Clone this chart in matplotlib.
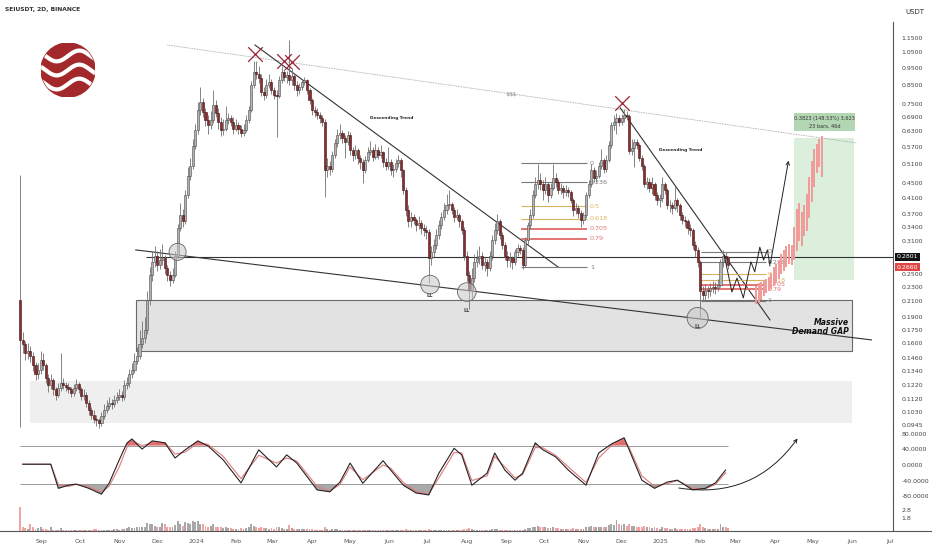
import numpy as np
import matplotlib
matplotlib.use("Agg")
import matplotlib.pyplot as plt
import matplotlib.dates as mdates
import matplotlib.transforms as mtransforms
from matplotlib.patches import Rectangle, Circle, FancyArrowPatch
from matplotlib.lines import Line2D
from matplotlib.ticker import NullLocator, NullFormatter, FixedLocator

plt.rcParams['font.family'] = ['DejaVu Sans']

# ---- data (2D candles, SEIUSDT) ----
start = np.datetime64("2023-08-15")
first_open = 0.212
closes = [
    0.164, 0.159, 0.150, 0.152, 0.148, 0.139, 0.131, 0.135, 0.144, 0.139,
    0.128, 0.122, 0.126, 0.119, 0.115, 0.120, 0.124, 0.122, 0.121, 0.119,
    0.116, 0.120, 0.123, 0.119, 0.114, 0.115, 0.109, 0.104, 0.101, 0.0985,
    0.0978, 0.096, 0.100, 0.104, 0.107, 0.109, 0.108, 0.111, 0.113, 0.115,
    0.113, 0.122, 0.124, 0.131, 0.135, 0.143, 0.148, 0.159, 0.166, 0.175,
    0.212, 0.249, 0.270, 0.282, 0.266, 0.274, 0.277, 0.260, 0.249, 0.241,
    0.249, 0.282, 0.337, 0.367, 0.352, 0.418, 0.473, 0.504, 0.574, 0.635,
    0.723, 0.760, 0.715, 0.678, 0.656, 0.678, 0.746, 0.708, 0.670, 0.635,
    0.641, 0.678, 0.685, 0.670, 0.641, 0.656, 0.641, 0.624, 0.635, 0.678,
    0.723, 0.850, 0.923, 0.913, 0.889, 0.812, 0.797, 0.850, 0.867, 0.822,
    0.797, 0.792, 0.877, 0.923, 0.894, 0.904, 0.877, 0.899, 0.850, 0.822,
    0.839, 0.867, 0.877, 0.822, 0.771, 0.723, 0.715, 0.700, 0.685, 0.670,
    0.490, 0.504, 0.495, 0.541, 0.584, 0.614, 0.624, 0.603, 0.588, 0.614,
    0.558, 0.541, 0.558, 0.530, 0.516, 0.490, 0.523, 0.550, 0.558, 0.533,
    0.558, 0.541, 0.550, 0.516, 0.504, 0.516, 0.490, 0.495, 0.512, 0.523,
    0.490, 0.431, 0.379, 0.352, 0.362, 0.355, 0.343, 0.348, 0.337, 0.333,
    0.328, 0.277, 0.289, 0.302, 0.322, 0.343, 0.362, 0.379, 0.390, 0.394,
    0.379, 0.362, 0.367, 0.352, 0.333, 0.282, 0.249, 0.226, 0.244, 0.270,
    0.277, 0.282, 0.266, 0.270, 0.260, 0.282, 0.312, 0.333, 0.352, 0.322,
    0.302, 0.282, 0.274, 0.277, 0.270, 0.289, 0.297, 0.293, 0.266, 0.312,
    0.343, 0.367, 0.418, 0.447, 0.460, 0.447, 0.431, 0.447, 0.418, 0.437,
    0.466, 0.455, 0.431, 0.437, 0.425, 0.431, 0.425, 0.404, 0.379, 0.384,
    0.371, 0.355, 0.367, 0.418, 0.447, 0.490, 0.466, 0.473, 0.504, 0.523,
    0.495, 0.523, 0.576, 0.656, 0.670, 0.685, 0.670, 0.685, 0.700, 0.696,
    0.554, 0.566, 0.588, 0.576, 0.530, 0.504, 0.447, 0.455, 0.437, 0.447,
    0.418, 0.404, 0.408, 0.447, 0.431, 0.390, 0.390, 0.384, 0.404, 0.390,
    0.367, 0.355, 0.352, 0.337, 0.333, 0.302, 0.293, 0.270, 0.224, 0.219,
    0.226, 0.224, 0.229, 0.231, 0.229, 0.234, 0.270, 0.282, 0.277, 0.266,
]
highs = [
    .475, .172, .163, .160, .157, .151, .142, .141, .152, .150,
    .141, .131, .131, .128, .121, .124, .150, .128, .125, .124,
    .121, .123, .127, .125, .121, .119, .117, .111, .106, .104,
    .101, .099, .103, .108, .111, .113, .112, .115, .117, .119,
    .118, .126, .129, .136, .141, .150, .156, .175, .185, .190,
    .225, .262, .290, .300, .290, .295, .305, .283, .266, .255,
    .260, .290, .345, .395, .380, .430, .500, .530, .600, .660,
    .760, .840, .780, .730, .700, .720, .820, .770, .730, .690,
    .680, .740, .710, .700, .690, .680, .670, .655, .660, .700,
    .740, .870, .990, .990, .960, .910, .840, .880, .910, .880,
    .840, .820, .900, .960, .940, .930, 1.135, .950, .910, .870,
    .860, .880, .895, .885, .830, .780, .740, .730, .715, .700,
    .680, .530, .520, .555, .600, .640, .660, .635, .615, .630,
    .625, .570, .575, .565, .540, .525, .535, .570, .590, .570,
    .580, .570, .575, .555, .530, .570, .525, .510, .525, .540,
    .530, .495, .440, .390, .375, .370, .360, .365, .355, .345,
    .342, .335, .300, .315, .335, .355, .375, .395, .420, .430,
    .400, .385, .380, .372, .358, .340, .290, .255, .260, .285,
    .292, .300, .288, .280, .276, .290, .322, .348, .370, .358,
    .328, .308, .290, .288, .282, .295, .305, .302, .298, .318,
    .350, .380, .430, .470, .510, .480, .460, .470, .455, .450,
    .510, .480, .462, .450, .445, .445, .440, .432, .410, .395,
    .392, .378, .375, .425, .460, .510, .500, .490, .515, .560,
    .530, .540, .590, .670, .700, .710, .700, .705, .728, .720,
    .705, .600, .600, .600, .585, .540, .510, .470, .465, .470,
    .455, .425, .420, .470, .455, .437, .405, .400, .440, .410,
    .395, .375, .365, .358, .345, .338, .310, .298, .275, .232,
    .235, .232, .236, .240, .238, .242, .276, .292, .288, .282,
]
lows = [
    .093, .150, .144, .145, .142, .134, .126, .127, .131, .135,
    .124, .117, .119, .115, .111, .113, .118, .119, .118, .116,
    .113, .114, .118, .116, .111, .111, .106, .101, .098, .096,
    .094, .0925, .094, .098, .102, .105, .105, .106, .109, .111,
    .110, .111, .119, .121, .128, .132, .140, .145, .155, .160,
    .170, .205, .240, .262, .255, .258, .265, .250, .240, .232,
    .236, .245, .276, .330, .340, .345, .410, .460, .495, .560,
    .620, .700, .690, .650, .620, .640, .665, .690, .640, .610,
    .615, .630, .660, .650, .620, .630, .620, .605, .610, .625,
    .665, .715, .835, .880, .860, .790, .770, .780, .830, .800,
    .775, .605, .780, .860, .870, .860, .850, .850, .820, .790,
    .800, .820, .850, .800, .750, .700, .690, .680, .665, .650,
    .413, .470, .475, .485, .530, .570, .600, .585, .530, .575,
    .540, .520, .525, .510, .495, .450, .480, .515, .540, .520,
    .525, .525, .530, .500, .490, .495, .475, .470, .485, .500,
    .470, .420, .365, .340, .340, .345, .330, .335, .325, .320,
    .315, .236, .265, .280, .295, .315, .335, .355, .370, .380,
    .370, .350, .355, .340, .325, .275, .240, .200, .215, .238,
    .262, .268, .258, .255, .248, .255, .275, .305, .325, .315,
    .295, .275, .262, .262, .258, .265, .282, .285, .258, .262,
    .305, .335, .360, .410, .435, .430, .405, .420, .400, .410,
    .430, .440, .420, .420, .410, .415, .412, .395, .365, .370,
    .360, .340, .345, .360, .410, .440, .455, .455, .465, .495,
    .480, .485, .515, .565, .635, .620, .650, .655, .670, .675,
    .545, .540, .500, .560, .520, .490, .440, .435, .425, .420,
    .405, .390, .385, .400, .420, .380, .375, .370, .378, .375,
    .355, .345, .340, .325, .320, .295, .280, .262, .189, .210,
    .212, .215, .218, .222, .220, .224, .230, .262, .265, .258,
]
volumes = [
    3.3, 0.6, 0.4, 0.3, 0.9, 0.5, 0.3, 0.4, 0.6, 0.3,
    0.3, 0.2, 0.5, 0.2, 0.2, 0.2, 0.4, 0.2, 0.2, 0.1,
    0.2, 0.2, 0.2, 0.2, 0.2, 0.1, 0.2, 0.2, 0.2, 0.3,
    0.3, 0.2, 0.2, 0.2, 0.2, 0.2, 0.2, 0.3, 0.3, 0.2,
    0.3, 0.3, 0.4, 0.5, 0.4, 0.4, 0.5, 0.6, 0.5, 0.5,
    1.1, 0.9, 1.0, 0.7, 0.5, 0.6, 1.1, 0.9, 0.6, 0.5,
    0.5, 0.8, 1.3, 1.0, 0.7, 1.2, 1.1, 0.9, 1.3, 1.2,
    1.4, 1.0, 0.9, 0.7, 0.6, 0.7, 1.0, 0.6, 0.6, 0.5,
    0.4, 0.5, 0.4, 0.4, 0.3, 0.3, 0.3, 0.4, 0.3, 0.4,
    0.5, 0.9, 0.7, 0.5, 0.4, 0.5, 0.4, 0.4, 0.3, 0.4,
    0.3, 0.5, 0.5, 0.4, 0.3, 0.3, 0.8, 0.4, 0.3, 0.3,
    0.3, 0.3, 0.3, 0.3, 0.3, 0.3, 0.2, 0.2, 0.2, 0.2,
    0.5, 0.3, 0.2, 0.3, 0.3, 0.3, 0.2, 0.2, 0.2, 0.2,
    0.2, 0.2, 0.2, 0.2, 0.2, 0.2, 0.2, 0.2, 0.2, 0.2,
    0.2, 0.1, 0.1, 0.2, 0.2, 0.2, 0.1, 0.1, 0.1, 0.1,
    0.2, 0.2, 0.3, 0.2, 0.2, 0.1, 0.1, 0.1, 0.1, 0.1,
    0.1, 0.3, 0.2, 0.2, 0.2, 0.2, 0.2, 0.2, 0.2, 0.2,
    0.2, 0.1, 0.1, 0.2, 0.2, 0.3, 0.3, 0.4, 0.3, 0.2,
    0.2, 0.2, 0.2, 0.1, 0.1, 0.2, 0.3, 0.3, 0.3, 0.2,
    0.2, 0.2, 0.2, 0.1, 0.1, 0.2, 0.2, 0.1, 0.2, 0.3,
    0.4, 0.4, 0.6, 0.5, 0.7, 0.6, 0.5, 0.5, 0.4, 0.4,
    0.6, 0.4, 0.4, 0.3, 0.3, 0.3, 0.3, 0.3, 0.4, 0.3,
    0.3, 0.3, 0.3, 0.5, 0.6, 0.7, 0.5, 0.5, 0.6, 0.6,
    0.5, 0.6, 0.8, 1.0, 0.8, 1.5, 0.9, 0.8, 0.9, 0.7,
    1.0, 0.7, 0.7, 0.5, 0.5, 0.6, 0.7, 0.5, 0.5, 0.4,
    0.5, 0.4, 0.3, 0.5, 0.4, 0.4, 0.3, 0.3, 0.4, 0.3,
    0.3, 0.3, 0.3, 0.3, 0.3, 0.4, 0.4, 0.5, 0.9, 0.5,
    0.4, 0.3, 0.3, 0.3, 0.3, 0.3, 0.9, 0.6, 0.5, 0.4,
]

# projected (bars pattern) highs / lows, continuing the 2D bar index
proj_start = 290
proj_hi = [.232, .236, .238, .240, .243, .246, .252, .262, .268, .275, .285, .292, .300, .305,
           .302, .340, .380, .395, .375, .390, .420, .470, .520, .560, .580, .600, .610]
proj_lo = [.207, .208, .212, .218, .222, .225, .228, .232, .236, .243, .250, .255, .262, .268,
           .265, .275, .290, .310, .300, .320, .330, .360, .400, .440, .480, .500, .470]

# oscillator (bar index, value)
osc_idx = [1, 12, 15, 19, 22, 27, 32, 35, 39, 42, 44, 48, 52, 57, 61, 65, 70, 74, 80, 87,
           94, 101, 105, 109, 117, 122, 126, 130, 135, 143, 146, 151, 156, 161, 165, 171, 174, 178, 184, 187,
           191, 195, 198, 203, 206, 211, 216, 223, 228, 233, 238, 240, 245, 250, 255, 259, 265, 270, 274, 278]
osc_main = [2, 2, -60, -52, -49, -60, -75, -47, 13, 56, 67, 41, 62, 57, 18, 39, 62, 49, 13, -46,
            39, -5, 26, 5, -64, -69, -44, 5, -47, 11, -13, -52, -72, -77, -21, 43, 26, -52, -21, 31,
            -13, -39, -21, 57, 39, 21, -13, -52, 31, 54, 70, 39, -39, -60, -44, -39, -64, -60, -46, -13]
osc_signal = [2, 2, -50, -55, -50, -56, -70, -55, -5, 45, 62, 50, 57, 58, 28, 33, 57, 53, 22, -35,
              25, 5, 18, 10, -55, -67, -50, -5, -38, 0, -8, -45, -68, -75, -33, 32, 31, -40, -28, 22,
              -5, -33, -25, 45, 44, 25, -5, -45, 18, 50, 66, 45, -28, -55, -48, -40, -60, -61, -50, -20]
osc_levels = [50, -50]

price_ticks = [1.15, 1.05, 0.95, 0.85, 0.75, 0.69, 0.63, 0.57, 0.51, 0.45, 0.41, 0.37, 0.34, 0.31,
               0.25, 0.23, 0.21, 0.19, 0.175, 0.16, 0.146, 0.134, 0.122, 0.112, 0.103, 0.0945]
level_line = 0.2801
fib_levels = [0, 0.236, 0.5, 0.618, 0.705, 0.79, 1]
fib_colors = ['#7a7a7a', '#7a7a7a', '#d9b25c', '#d9b25c', '#e57373', '#e57373', '#7a7a7a']
fib_widths = [0.8, 0.8, 0.8, 0.8, 1.4, 1.4, 0.8]


def dn(s):
    return mdates.date2num(np.datetime64(s))


def bar_x(i):
    return mdates.date2num(start + np.timedelta64(2, 'D') * np.asarray(i))


c = np.array(closes)
o = np.array([first_open] + closes[:-1])
h = np.array(highs)
l = np.array(lows)
v = np.array(volumes)
x = bar_x(np.arange(len(c)))
up = c >= o

W, H = 932, 550
fig = plt.figure(figsize=(W / 100, H / 100), dpi=100)
fig.patch.set_facecolor('white')

axp = fig.add_axes([0, 1 - 430 / H, 893 / W, 408 / H])
axo = fig.add_axes([0, 1 - 500 / H, 893 / W, 70 / H], sharex=axp)
axv = fig.add_axes([0, 1 - 531 / H, 893 / W, 31 / H], sharex=axp)

for a in (axp, axo, axv):
    for s in ('top', 'left', 'bottom'):
        a.spines[s].set_visible(False)
    a.spines['right'].set_color('#555555')
    a.spines['right'].set_linewidth(0.8)
    a.yaxis.tick_right()
    a.tick_params(axis='y', length=0, pad=6, labelsize=4.5, labelcolor='#444444')
    a.set_facecolor('none')

# ---- price pane ----
axp.set_yscale('log')
axp.set_ylim(0.0915, 1.275)
axp.set_xlim(dn('2023-07-30'), dn('2025-07-03'))
axp.yaxis.set_major_locator(FixedLocator(price_ticks))
axp.yaxis.set_minor_locator(NullLocator())
axp.yaxis.set_minor_formatter(NullFormatter())
axp.set_yticklabels([f'{t:.4f}' for t in price_ticks])
axp.tick_params(axis='x', which='both', bottom=False, labelbottom=False)

# zones
axp.add_patch(Rectangle((dn('2023-08-23'), 0.0958), dn('2025-06-01') - dn('2023-08-23'), 0.1256 - 0.0958,
                        facecolor='#efefef', edgecolor='none', zorder=0))
axp.add_patch(Rectangle((dn('2023-11-14'), 0.1525), dn('2025-06-01') - dn('2023-11-14'), 0.212 - 0.1525,
                        facecolor='#e2e2e2', edgecolor='#6a6a6a', lw=0.8, zorder=0.5))
axp.text(dn('2025-05-29'), 0.178, 'Massive\nDemand GAP', ha='right', va='center', fontsize=5.6,
         fontweight='bold', fontstyle='italic', color='#111111', linespacing=1.0, zorder=6)

# green range box
axp.add_patch(Rectangle((dn('2025-04-16'), 0.241), dn('2025-06-02') - dn('2025-04-16'), 0.603 - 0.241,
                        facecolor='#dcefdc', edgecolor='none', zorder=0.8))
axp.add_patch(Rectangle((dn('2025-04-16'), 0.631), dn('2025-06-03') - dn('2025-04-16'), 0.709 - 0.631,
                        facecolor='#b3d6b3', edgecolor='none', zorder=0.8))
axp.text((dn('2025-04-16') + dn('2025-06-03')) / 2, 0.668, '0.3823 (148.53%) 3,623\n23 bars, 46d',
         ha='center', va='center', fontsize=3.6, color='#333333', linespacing=1.6, zorder=6)

# trend lines
axp.plot([dn('2023-12-09'), dn('2025-06-04')], [1.099, 0.584], color='#9a9a9a', lw=0.6, ls=(0, (1, 1)), zorder=2)
axp.text(dn('2024-09-05'), 0.796, '-$$$', fontsize=3.5, color='#777777', ha='center', va='center', zorder=2)
axp.plot([dn('2023-11-14'), dn('2025-06-16')], [0.2927, 0.1637], color='#333333', lw=0.8, zorder=2)
axp.hlines(level_line, dn('2023-11-22'), dn('2025-07-03'), color='#333333', lw=0.8, zorder=2)
axp.plot([dn('2024-02-16'), dn('2024-10-12')], [1.099, 0.262], color='#333333', lw=0.8, zorder=2)
axp.plot([dn('2024-11-30'), dn('2025-03-28')], [0.732, 0.1863], color='#333333', lw=0.8, zorder=2)
axp.text(dn('2024-06-03'), 0.686, 'Descending Trend', fontsize=3.1, fontweight='bold', color='#222222',
         ha='center', va='center', zorder=6)
axp.text(dn('2025-01-17'), 0.558, 'Descending Trend', fontsize=3.1, fontweight='bold', color='#222222',
         ha='center', va='center', zorder=6)

# fib retracements
for (d0, d1, hi, lo, dlab) in [('2024-09-13', '2024-11-04', 0.513, 0.262, '2024-11-06'),
                               ('2025-02-02', '2025-03-25', 0.289, 0.2105, '2025-03-26')]:
    for lev, col, lw in zip(fib_levels, fib_colors, fib_widths):
        p = hi - lev * (hi - lo)
        axp.hlines(p, dn(d0), dn(d1), color=col, lw=lw, zorder=2)
        lab = '0' if lev == 0 else ('1' if lev == 1 else f'{lev:g}')
        axp.text(dn(dlab), p, lab, fontsize=4.6, color=col, ha='left', va='center', zorder=2)

# candles
axp.vlines(x, l, h, color='#707070', lw=0.6, zorder=3)
body_lo = np.minimum(o, c)
body_h = np.maximum(np.abs(c - o), 0.003 * c)
axp.bar(x[up], body_h[up], bottom=body_lo[up], width=1.65, color='#b3b3b3', edgecolor='#4a4a4a',
        linewidth=0.4, zorder=4)
axp.bar(x[~up], body_h[~up], bottom=body_lo[~up], width=1.65, color='#8a2c2c', edgecolor='#3b1212',
        linewidth=0.4, zorder=4)

# projected bars
px = bar_x(np.arange(proj_start, proj_start + len(proj_hi)))
axp.vlines(px, proj_lo, proj_hi, color='#f19a9a', lw=1.4, zorder=3)

# projected zigzag path
zz_dates = ['2025-02-20', '2025-02-26', '2025-03-02', '2025-03-07', '2025-03-13', '2025-03-16',
            '2025-03-20', '2025-03-23', '2025-03-26', '2025-03-28']
zz_prices = [0.283, 0.223, 0.244, 0.2147, 0.271, 0.254, 0.298, 0.274, 0.2927, 0.264]
axp.plot([dn(d) for d in zz_dates], zz_prices, color='#222222', lw=0.7, zorder=5)
axp.annotate('', xy=(dn('2025-04-12'), 0.530), xytext=(dn('2025-03-28'), 0.264),
             arrowprops=dict(arrowstyle='->', color='#222222', lw=0.7, mutation_scale=6), zorder=5)

# crosses
cross_d = ['2024-02-16', '2024-03-10', '2024-03-16', '2024-12-01']
cross_p = [1.037, 0.991, 0.985, 0.756]
axp.scatter([dn(d) for d in cross_d], cross_p, marker='x', s=110, color='#9b2335', linewidths=0.9, zorder=6)

# circles and LL labels
circ_d = ['2023-12-17', '2024-07-03', '2024-08-01', '2025-01-30']
circ_p = [0.289, 0.234, 0.223, 0.1886]
circ_s = [150, 180, 180, 230]
axp.scatter([dn(d) for d in circ_d], circ_p, s=circ_s, marker='o', facecolor=(0.78, 0.78, 0.78, 0.55),
            edgecolor='#666666', linewidths=0.6, zorder=5)
for d, p in zip(circ_d[1:], [0.2175, 0.1973, 0.179]):
    axp.text(dn(d), p, 'LL', fontsize=3.6, fontweight='bold', color='#444444', ha='center', va='center', zorder=6)

# right price labels
tr = mtransforms.blended_transform_factory(axp.transAxes, axp.transData)
axp.text(1.004, level_line, f'{level_line:.4f}', transform=tr, fontsize=4.5, color='white', va='center',
         ha='left', bbox=dict(boxstyle='square,pad=0.25', fc='#111111', ec='none'), zorder=7, clip_on=False)
axp.text(1.004, c[-1], f'{c[-1]:.4f}', transform=tr, fontsize=4.5, color='white', va='top',
         ha='left', bbox=dict(boxstyle='square,pad=0.25', fc='#e04545', ec='none'), zorder=7, clip_on=False)

# ---- oscillator pane ----
xo = bar_x(np.array(osc_idx))
om = np.array(osc_main, dtype=float)
axo.set_ylim(-90, 90)
axo.hlines(osc_levels, x[0], x[-1], color='#8a8a8a', lw=0.6, zorder=1)
axo.fill_between(xo, om, 50, where=om > 50, interpolate=True, color='#dd5c5c', alpha=0.9, lw=0, zorder=2)
axo.fill_between(xo, om, -50, where=om < -50, interpolate=True, color='#9a9a9a', alpha=0.85, lw=0, zorder=2)
axo.plot(xo, osc_signal, color='#e07a7a', lw=0.8, zorder=3)
axo.plot(xo, om, color='#222222', lw=0.8, zorder=4)
axo.set_yticks([80, 40, 0, -40, -80])
axo.set_yticklabels(['80.0000', '40.0000', '0.0000', '-40.0000', '-80.0000'])
axo.tick_params(axis='x', which='both', bottom=False, labelbottom=False)
axo.add_patch(FancyArrowPatch((dn('2025-01-13'), -58), (dn('2025-04-20'), 74),
                              connectionstyle='arc3,rad=0.32', arrowstyle='->', mutation_scale=6,
                              color='#222222', lw=0.7, zorder=5))

# ---- volume pane ----
axv.set_ylim(0, 4.2)
axv.bar(x[up], v[up], width=1.5, color='#a8a8a8', zorder=2)
axv.bar(x[~up], v[~up], width=1.5, color='#f2a3a3', zorder=2)
axv.set_yticks([2.8, 1.8])
axv.set_yticklabels(['2.8', '1.8'])

months = np.arange(np.datetime64('2023-09'), np.datetime64('2025-08'))
mlabels = [str(m)[:4] if str(m).endswith('-01') else
           ['Jan', 'Feb', 'Mar', 'Apr', 'May', 'Jun', 'Jul', 'Aug', 'Sep', 'Oct', 'Nov', 'Dec'][int(str(m)[5:]) - 1]
           for m in months]
axv.set_xticks(mdates.date2num(months.astype('datetime64[D]')))
axv.set_xticklabels(mlabels)
axv.tick_params(axis='x', length=0, pad=6, labelsize=4.5, labelcolor='#555555')
axv.set_xlim(dn('2023-07-30'), dn('2025-07-03'))

# bottom axis line
fig.add_artist(Line2D([0, 1], [1 - 531 / H, 1 - 531 / H], color='#555555', lw=0.8))

# header / currency
fig.text(5 / W, 1 - 10 / H, 'SEIUSDT, 2D, BINANCE', fontsize=4.3, fontweight='bold', color='#333333',
         ha='left', va='center')
fig.text(905 / W, 1 - 12 / H, 'USDT', fontsize=5.0, color='#333333', ha='left', va='center')

# logo
axl = fig.add_axes([(68 - 27) / W, 1 - (70 + 27) / H, 54 / W, 54 / H])
axl.set_xlim(-1, 1)
axl.set_ylim(-1, 1)
axl.set_aspect('equal')
axl.axis('off')
disc = Circle((0, 0), 1, color='#a3282b')
axl.add_patch(disc)
t = np.linspace(-1.1, 1.1, 200)
for k in (0.52, 0.0, -0.52):
    wl, = axl.plot(t, k + 0.2 * np.sin(np.pi * t * 1.2), color='white', lw=3.0, solid_capstyle='round')
    wl.set_clip_path(disc)

fig.savefig('out.png', dpi=100, facecolor='white')
